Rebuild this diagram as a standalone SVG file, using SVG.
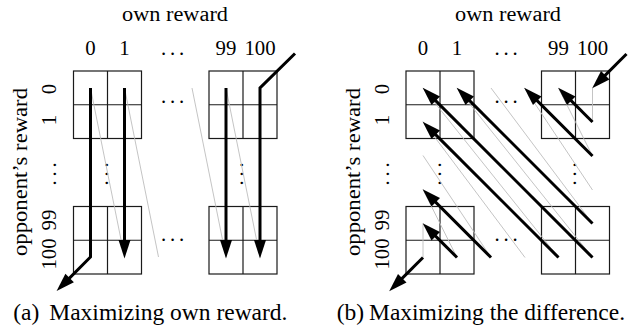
<svg xmlns="http://www.w3.org/2000/svg" xmlns:xlink="http://www.w3.org/1999/xlink" width="631" height="329" viewBox="0 0 631 329">
  <style>
    .grid { fill: none; stroke: #1a1a1a; stroke-width: 1.2; }
    .arr { fill: none; stroke: #000; stroke-width: 3; stroke-linejoin: miter; marker-end: url(#head); }
    .thin { fill: none; stroke: #bdbdbd; stroke-width: 0.9; }
    text { font-family: "Liberation Serif", "Times New Roman", serif; fill: #000; }
    .lbl { font-size: 20.8px; }
    .mid { text-anchor: middle; }
    .dots { font-size: 20.8px; letter-spacing: 3.8px; }
    .cap { font-size: 23.5px; }
  </style>
  <defs>
    <marker id="head" markerUnits="userSpaceOnUse" markerWidth="20" markerHeight="14" refX="8" refY="7" orient="auto" overflow="visible">
      <path d="M18.5,7 L0,1 L0,13 Z" fill="#000"/>
    </marker>
    <!-- one 2x2 block of cells -->
    <g id="block">
      <rect class="grid" x="0" y="0" width="68" height="67.5"/>
      <line class="grid" x1="34" y1="0" x2="34" y2="67.5"/>
      <line class="grid" x1="0" y1="33.75" x2="68" y2="33.75"/>
    </g>
  </defs>

  <!-- ===== (a) maximizing own reward ===== -->
  <g id="a-labels">
    <text class="lbl mid" x="175" y="21" textLength="106" lengthAdjust="spacingAndGlyphs">own reward</text>
    <text class="lbl mid" x="90.5" y="54.5">0</text>
    <text class="lbl mid" x="124.5" y="54.5">1</text>
    <text class="dots" x="160.9" y="54.5">...</text>
    <text class="lbl mid" x="226" y="54.5">99</text>
    <text class="lbl mid" x="260" y="54.5">100</text>
    <text class="lbl mid" transform="translate(27,172) rotate(-90)" textLength="168" lengthAdjust="spacingAndGlyphs">opponent’s reward</text>
    <text class="lbl mid" transform="translate(55.5,89) rotate(-90)">0</text>
    <text class="lbl mid" transform="translate(55.5,120) rotate(-90)">1</text>
    <text class="dots" transform="translate(55.8,185.6) rotate(-90)">...</text>
    <text class="lbl mid" transform="translate(55.5,220) rotate(-90)">99</text>
    <text class="lbl mid" transform="translate(55.5,254) rotate(-90)">100</text>
  </g>
  <g id="a-block-top-left"><use xlink:href="#block" x="73.5" y="71"/></g>
  <g id="a-block-top-right"><use xlink:href="#block" x="209" y="71"/></g>
  <g id="a-block-bottom-left"><use xlink:href="#block" x="73.5" y="206.5"/></g>
  <g id="a-block-bottom-right"><use xlink:href="#block" x="209" y="206.5"/></g>
  <g id="a-gaps">
    <text class="dots" x="160.9" y="103">...</text>
    <text class="dots" x="160.9" y="240.5">...</text>
    <text class="dots" transform="translate(107.8,185.6) rotate(-90)">...</text>
    <text class="dots" transform="translate(242.8,185.6) rotate(-90)">...</text>
  </g>
  <g id="a-connectors">
    <line class="thin" x1="90.5" y1="88" x2="124.5" y2="257"/>
    <line class="thin" x1="124.5" y1="88" x2="158.5" y2="257"/>
    <line class="thin" x1="192" y1="88" x2="226" y2="257"/>
    <line class="thin" x1="226" y1="88" x2="260" y2="257"/>
    <polyline class="arr" points="90.5,88 90.5,257 64,283.6"/>
    <polyline class="arr" points="124.5,88 124.5,248"/>
    <polyline class="arr" points="226,88 226,248"/>
    <polyline class="arr" points="295,53.5 260,88 260,248"/>
  </g>

  <!-- ===== (b) maximizing the difference ===== -->
  <g id="b-labels">
    <text class="lbl mid" x="508" y="21" textLength="106" lengthAdjust="spacingAndGlyphs">own reward</text>
    <text class="lbl mid" x="423" y="54.5">0</text>
    <text class="lbl mid" x="457" y="54.5">1</text>
    <text class="dots" x="494.4" y="54.5">...</text>
    <text class="lbl mid" x="558.5" y="54.5">99</text>
    <text class="lbl mid" x="592.5" y="54.5">100</text>
    <text class="lbl mid" transform="translate(360,172) rotate(-90)" textLength="168" lengthAdjust="spacingAndGlyphs">opponent’s reward</text>
    <text class="lbl mid" transform="translate(388.5,89) rotate(-90)">0</text>
    <text class="lbl mid" transform="translate(388.5,120) rotate(-90)">1</text>
    <text class="dots" transform="translate(389.3,185.6) rotate(-90)">...</text>
    <text class="lbl mid" transform="translate(388.5,220) rotate(-90)">99</text>
    <text class="lbl mid" transform="translate(388.5,254) rotate(-90)">100</text>
  </g>
  <g id="b-block-top-left"><use xlink:href="#block" x="406" y="71"/></g>
  <g id="b-block-top-right"><use xlink:href="#block" x="541.5" y="71"/></g>
  <g id="b-block-bottom-left"><use xlink:href="#block" x="406" y="206.5"/></g>
  <g id="b-block-bottom-right"><use xlink:href="#block" x="541.5" y="206.5"/></g>
  <g id="b-gaps">
    <text class="dots" x="494.4" y="103">...</text>
    <text class="dots" x="494.4" y="240.5">...</text>
    <text class="dots" transform="translate(440.8,185.6) rotate(-90)">...</text>
    <text class="dots" transform="translate(575.8,185.6) rotate(-90)">...</text>
  </g>
  <g id="b-connectors">
    <!-- alternative moves (thin grey) -->
    <line class="thin" x1="592.5" y1="257.5" x2="457" y2="88"/>
    <line class="thin" x1="592.5" y1="223.5" x2="491" y2="88"/>
    <line class="thin" x1="558.5" y1="257.5" x2="423" y2="88"/>
    <line class="thin" x1="592.5" y1="156" x2="558.5" y2="88"/>
    <line class="thin" x1="592.5" y1="190" x2="524.5" y2="88"/>
    <line class="thin" x1="592.5" y1="122" x2="592.5" y2="88"/>
    <line class="thin" x1="491" y1="257.5" x2="423" y2="155.5"/>
    <line class="thin" x1="525" y1="257.5" x2="423" y2="121.5"/>
    <line class="thin" x1="457" y1="257.5" x2="423" y2="189.5"/>
    <line class="thin" x1="423" y1="257.5" x2="423" y2="223.5"/>
    <!-- chosen moves (thick) -->
    <polyline class="arr" points="592.5,257.5 430.1,95.1"/>
    <polyline class="arr" points="592.5,223.5 464.1,95.1"/>
    <polyline class="arr" points="558.5,257.5 430.1,129.1"/>
    <polyline class="arr" points="592.5,156 531.6,95.1"/>
    <polyline class="arr" points="592.5,122 565.6,95.1"/>
    <polyline class="arr" points="626.5,54 599.6,80.9"/>
    <polyline class="arr" points="491,257.5 430.1,196.6"/>
    <polyline class="arr" points="457,257.5 430.1,230.6"/>
    <polyline class="arr" points="423,257.5 396.6,283.9"/>
  </g>

  <!-- captions -->
  <text class="cap" x="13.3" y="320">(a)<tspan x="49.3">Maximizing own reward.</tspan></text>
  <text class="cap" x="336.7" y="320">(b)<tspan x="369">Maximizing the difference.</tspan></text>
</svg>
